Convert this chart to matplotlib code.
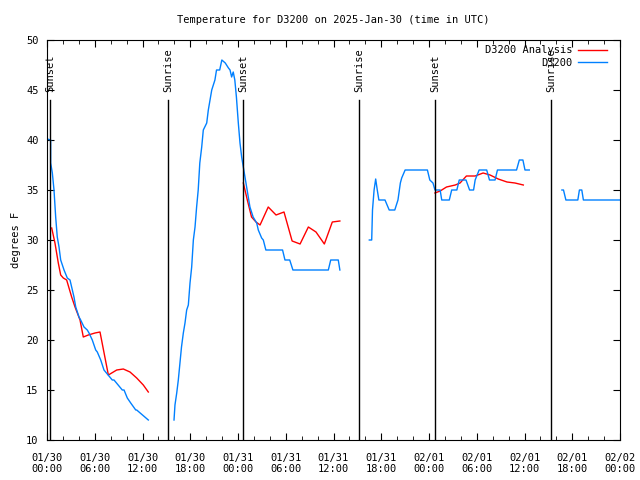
import numpy as np
import matplotlib
matplotlib.use('Agg')
import matplotlib.pyplot as plt
from matplotlib.ticker import MultipleLocator

nan = np.nan

# hours since 01/30 00:00 UTC
obs_hours = [0.04, 0.46, 0.46, 0.67, 0.88, 1.09, 1.29, 1.51, 1.72, 2.14, 2.55, 2.89, 3.18, 3.39,
             3.61, 4.02, 4.23, 4.65, 5.06, 5.28, 5.69, 6.12, 6.32, 6.75, 7.16, 8.2, 8.42, 9.46,
             9.68, 10.09, 10.52, 11.15, 11.27, 12.73, nan,
             15.96, 16.08, 16.3, 16.5, 16.7, 16.9, 17.13, 17.34, 17.55, 17.76, 17.97, 18.18, 18.39,
             18.6, 18.8, 19.0, 19.2, 19.44, 19.64, 20.07, 20.27, 20.48, 20.7, 21.1, 21.3, 21.7,
             21.97, 22.4, 22.8, 23.0, 23.2, 23.4, 23.6, 23.8, 24.04, 24.25, 24.46, 24.67, 24.88,
             25.09, 25.3, 25.5, 25.9, 26.35, 26.55, 26.97, 27.18, 27.5, 29.6, 29.9, 30.5, 30.9,
             35.35, 35.65, 36.6, 36.8, nan,
             40.5, 40.8, 40.9, 41.1, 41.3, 41.5, 41.7, 42.47, 43.0, 43.7, 44.1, 44.4, 44.57, 45.0,
             47.8, 48.1, 48.5, 48.75, 49.4, 49.6, 50.55, 50.85, 51.5, 51.8, 52.65, 53.1, 53.6,
             53.8, 54.3, 55.25, 55.6, 56.3, 56.6, 59.0, 59.35, 59.8, 60.06, 60.6, nan,
             64.7, 64.9, 65.2, 66.7, 66.9, 67.2, 67.4, 72.0]
obs_temp = [40.1, 40.0, 37.7, 36.7, 35.0, 32.3, 30.3, 29.3, 28.0, 27.0, 26.2, 26.0, 25.0, 24.3,
            23.3, 22.3, 22.0, 21.3, 21.0, 20.7, 20.0, 19.0, 18.8, 18.0, 17.0, 16.0, 16.0, 15.0,
            15.0, 14.2, 13.7, 13.0, 13.0, 12.0, nan,
            12.0, 13.5, 14.7, 16.0, 17.7, 19.3, 20.7, 21.7, 23.0, 23.5, 25.7, 27.3, 30.0,
            31.3, 33.3, 35.0, 37.7, 39.3, 41.0, 41.7, 43.0, 44.0, 45.0, 46.0, 47.0, 47.0,
            48.0, 47.7, 47.2, 47.0, 46.3, 46.8, 46.0, 44.3, 41.7, 39.7, 38.3, 37.3, 36.3,
            35.3, 34.3, 33.3, 32.3, 31.7, 31.0, 30.2, 30.0, 29.0, 29.0, 28.0, 28.0, 27.0,
            27.0, 28.0, 28.0, 27.0, nan,
            30.0, 30.0, 33.0, 35.0, 36.1, 35.0, 34.0, 34.0, 33.0, 33.0, 34.0, 35.7, 36.2, 37.0,
            37.0, 36.0, 35.7, 35.0, 35.0, 34.0, 34.0, 35.0, 35.0, 36.0, 36.0, 35.0, 35.0,
            36.0, 37.0, 37.0, 36.0, 36.0, 37.0, 37.0, 38.0, 38.0, 37.0, 37.0, nan,
            35.0, 35.0, 34.0, 34.0, 35.0, 35.0, 34.0, 34.0]

ana_hours = [0.59, 1.0, 1.42, 1.72, 2.05, 2.47, 3.1, 3.52, 4.15, 4.56, 5.19, 6.03, 6.66, 7.71,
             8.76, 9.59, 10.43, 11.27, 12.1, 12.73, nan,
             24.67, 25.17, 25.7, 26.26, 26.77, 27.8, 28.78, 29.78, 30.8, 31.8, 32.84, 33.8,
             34.85, 35.85, 36.8, nan,
             48.75, 49.4, 50.2, 51.3, 51.9, 52.7, 53.8, 54.8, 55.67, 56.7, 57.8, 58.8, 59.85]
ana_temp = [31.2, 29.7, 27.7, 26.5, 26.2, 26.0, 24.3, 23.3, 22.0, 20.3, 20.5, 20.7, 20.8, 16.5,
            17.0, 17.1, 16.8, 16.2, 15.5, 14.8, nan,
            35.7, 34.0, 32.3, 31.8, 31.5, 33.3, 32.5, 32.8, 29.9, 29.6, 31.3, 30.8,
            29.6, 31.8, 31.9, nan,
            34.7, 34.9, 35.3, 35.5, 35.7, 36.4, 36.4, 36.7, 36.5, 36.1, 35.8, 35.7, 35.5]

sun_hours = [0.38, 15.2, 24.6, 39.2, 48.75, 63.3]
sun_labels = ['Sunset', 'Sunrise', 'Sunset', 'Sunrise', 'Sunset', 'Sunrise']

tick_labels = ['01/30\n00:00', '01/30\n06:00', '01/30\n12:00', '01/30\n18:00',
               '01/31\n00:00', '01/31\n06:00', '01/31\n12:00', '01/31\n18:00',
               '02/01\n00:00', '02/01\n06:00', '02/01\n12:00', '02/01\n18:00',
               '02/02\n00:00']

plt.rcParams['font.family'] = 'DejaVu Sans Mono'
plt.rcParams['font.size'] = 7.5

fig = plt.figure(figsize=(6.4, 4.8), dpi=100)
ax = fig.add_axes([47 / 640, 40 / 480, 573 / 640, 400 / 480])

ax.plot(ana_hours, ana_temp, color='#ff0000', lw=1, label='D3200 Analysis')
ax.plot(obs_hours, obs_temp, color='#0080ff', lw=1, label='D3200')

for h, lab in zip(sun_hours, sun_labels):
    ax.plot([h, h], [10, 44], color='black', lw=1)
    ax.text(h, 44.8, lab, rotation=90, ha='center', va='bottom', fontsize=7.5)

ax.set_xlim(0, 72)
ax.set_ylim(10, 50)
ax.set_xticks(np.arange(0, 73, 6))
ax.set_xticklabels(tick_labels)
ax.xaxis.set_minor_locator(MultipleLocator(2))
ax.set_yticks(np.arange(10, 51, 5))
ax.tick_params(which='both', direction='in', top=True, right=True)
ax.tick_params(axis='x', pad=9)
ax.tick_params(axis='y', pad=6)
ax.tick_params(which='major', length=5)
ax.tick_params(which='minor', length=3)
ax.set_ylabel('degrees F')
ax.set_title('Temperature for D3200 on 2025-Jan-30 (time in UTC)', fontsize=7.5, pad=12)

leg = ax.legend(loc='upper right', bbox_to_anchor=(0.985, 0.9975), frameon=False,
                markerfirst=False, handlelength=2.8, handletextpad=0.5,
                borderaxespad=0.0, labelspacing=0.25, fontsize=7.5)

fig.savefig('out.png', dpi=100)
